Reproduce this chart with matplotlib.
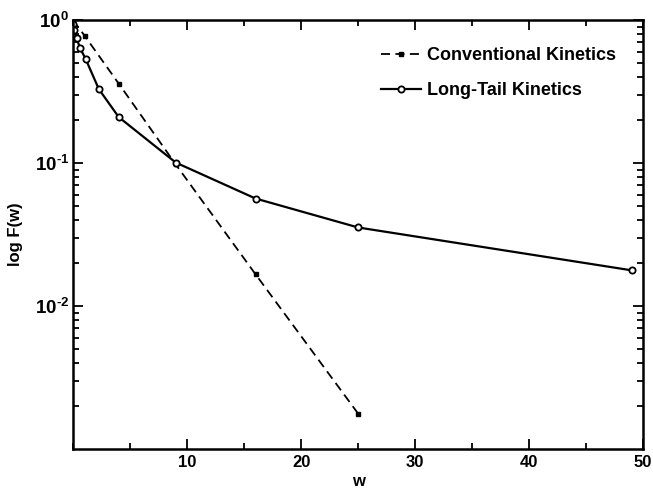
import matplotlib
matplotlib.use("Agg")
import matplotlib.pyplot as plt
from matplotlib.ticker import MultipleLocator, LogLocator, NullFormatter

plt.rcParams['font.family'] = ['Liberation Sans', 'DejaVu Sans']
plt.rcParams['font.weight'] = 'bold'
plt.rcParams['mathtext.fontset'] = 'custom'
plt.rcParams['mathtext.bf'] = 'Liberation Sans:bold'
plt.rcParams['mathtext.rm'] = 'Liberation Sans:bold'
plt.rcParams['mathtext.default'] = 'bf'

# conventional kinetics (dashed)
w_conv = [0, 1, 4, 9, 16, 25]
f_conv = [1.0, 0.78, 0.36, 0.098, 0.0167, 0.00177]

# long-tail kinetics (solid, open circles)
w_long = [0, 0.1, 0.3, 0.6, 1.1, 2.25, 4, 9, 16, 25, 49]
f_long = [0.94, 0.86, 0.75, 0.64, 0.535, 0.33, 0.21, 0.101, 0.0566, 0.0355, 0.0178]

fig = plt.figure(figsize=(6.53, 4.93), dpi=100)
ax = fig.add_axes([0.112, 0.089, 0.873, 0.870])

ax.plot(w_conv, f_conv, ls=(0, (5, 3)), color='black', lw=1.3,
        marker='s', ms=3, mfc='black', label='Conventional Kinetics')
ax.plot(w_long, f_long, ls='-', color='black', lw=1.6,
        marker='o', ms=4.5, mfc='white', mew=1.3, label='Long-Tail Kinetics')

ax.set_yscale('log')
ax.set_xlim(0, 50)
ax.set_ylim(1e-3, 1)

ax.xaxis.set_minor_locator(MultipleLocator(5))
ax.set_xticks([10, 20, 30, 40, 50])
ax.set_xticklabels(['10', '20', '30', '40', '50'])
ax.set_yticks([1e-2, 1e-1, 1])
ax.set_yticklabels([r'$10^{\text{-}2}$', r'$10^{\text{-}1}$', r'$10^{0}$'])
ax.yaxis.set_minor_locator(LogLocator(base=10, subs=range(2, 10)))
ax.yaxis.set_minor_formatter(NullFormatter())

ax.tick_params(which='both', direction='in', top=True, right=True, width=1.3)
ax.tick_params(which='major', length=7, pad=4)
ax.tick_params(which='minor', length=4)
ax.tick_params(axis='x', labelsize=12)
ax.tick_params(axis='y', labelsize=13.5, pad=3)
for s in ax.spines.values():
    s.set_linewidth(1.8)

ax.set_xlabel('w', fontsize=12, fontweight='bold', labelpad=3)
ax.set_ylabel('log F(w)', fontsize=12, fontweight='bold', labelpad=8)

leg = ax.legend(loc='upper right', bbox_to_anchor=(0.98, 0.975), frameon=False,
                fontsize=13, handlelength=2.2, handletextpad=0.3, labelspacing=1.0)

fig.savefig('out.png', dpi=100)
